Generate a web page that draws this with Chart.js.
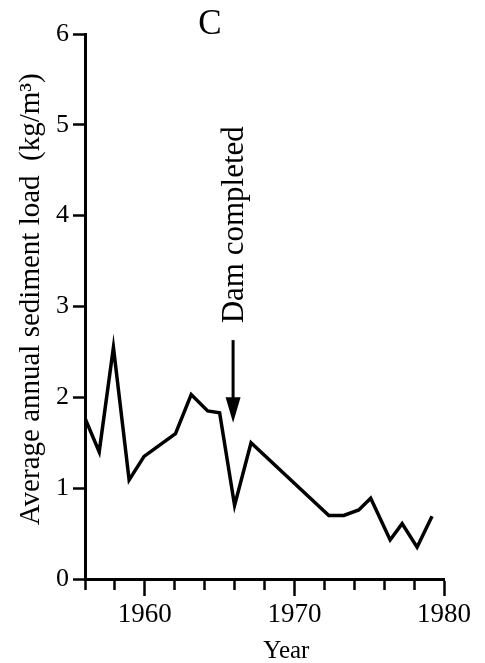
<!DOCTYPE html>
<html>
<head>
<meta charset="utf-8">
<script src="https://cdn.jsdelivr.net/npm/chart.js@4/dist/chart.umd.min.js"></script>
<style>
  html, body { margin: 0; padding: 0; background: #fff; }
  #wrap { width: 485px; height: 663px; }
</style>
</head>
<body>
<div id="wrap"><canvas id="chartC"></canvas></div>
<script>
// sediment load series
const years = [1956, 1956.95, 1957.9, 1958.95, 1959.95, 1962.05, 1963.1, 1964.2, 1965.0, 1966.0,
               1967.1, 1972.3, 1973.3, 1974.3, 1975.1, 1976.4, 1977.2, 1978.2, 1979.2];
const sedimentLoad = [1.77, 1.40, 2.55, 1.09, 1.35, 1.60, 2.03, 1.85, 1.83, 0.81,
                      1.50, 0.70, 0.70, 0.76, 0.89, 0.43, 0.61, 0.35, 0.69];
const xTickLabels = [1960, 1970, 1980];
const damYear = 1965.9;

const SERIF = "'Liberation Serif', 'Times New Roman', serif";

const notesPlugin = {
  id: 'notes',
  afterDraw(chart) {
    const ctx = chart.ctx;
    const x = chart.scales.x;
    const y = chart.scales.y;
    ctx.save();
    ctx.fillStyle = '#000';
    ctx.strokeStyle = '#000';

    // panel letter
    ctx.font = '35px ' + SERIF;
    ctx.textAlign = 'center';
    ctx.textBaseline = 'middle';
    ctx.fillText('C', 210, 25);

    // dam annotation + arrow
    const ax = x.getPixelForValue(damYear);
    ctx.save();
    ctx.translate(ax + 10, y.getPixelForValue(3.9));
    ctx.rotate(-Math.PI / 2);
    ctx.font = '31px ' + SERIF;
    ctx.textAlign = 'center';
    ctx.textBaseline = 'alphabetic';
    ctx.fillText('Dam completed', 0, 0);
    ctx.restore();

    const yTop = y.getPixelForValue(2.63);
    const yHead = y.getPixelForValue(2.0);
    const yTip = y.getPixelForValue(1.72);
    ctx.lineWidth = 3;
    ctx.beginPath();
    ctx.moveTo(ax, yTop);
    ctx.lineTo(ax, yHead + 2);
    ctx.stroke();
    ctx.beginPath();
    ctx.moveTo(ax - 7.5, yHead);
    ctx.lineTo(ax + 7.5, yHead);
    ctx.lineTo(ax, yTip);
    ctx.closePath();
    ctx.fill();
    ctx.restore();
  }
};

new Chart(document.getElementById('chartC'), {
  type: 'line',
  data: {
    datasets: [{
      data: years.map((yr, i) => ({ x: yr, y: sedimentLoad[i] })),
      borderColor: '#000',
      borderWidth: 3.5,
      borderJoinStyle: 'miter',
      pointRadius: 0,
      tension: 0,
      fill: false
    }]
  },
  options: {
    responsive: true,
    maintainAspectRatio: false,
    animation: false,
    events: [],
    layout: { padding: { left: 0, right: 41, top: 34, bottom: 0 } },
    plugins: { legend: { display: false }, tooltip: { enabled: false } },
    scales: {
      x: {
        type: 'linear',
        min: 1956,
        max: 1980,
        border: { display: true, color: '#000', width: 3 },
        grid: {
          drawOnChartArea: false,
          drawTicks: true,
          tickLength: 17,
          tickColor: '#000',
          tickWidth: 2.5,
          tickBorderDash: c => (c.tick && xTickLabels.includes(c.tick.value)) ? [] : [9, 40]
        },
        ticks: {
          stepSize: 2,
          autoSkip: false,
          maxRotation: 0,
          color: '#000',
          padding: 3,
          font: { family: SERIF, size: 27 },
          callback: v => xTickLabels.includes(v) ? String(v) : ''
        },
        title: {
          display: true,
          text: '       Year',
          color: '#000',
          font: { family: SERIF, size: 25, lineHeight: 0.9 },
          padding: { top: 0, bottom: 0 }
        },
        afterFit: s => { s.height = 84; }
      },
      y: {
        min: 0,
        max: 6,
        border: { display: true, color: '#000', width: 3 },
        grid: {
          drawOnChartArea: false,
          drawTicks: true,
          tickLength: 12,
          tickColor: '#000',
          tickWidth: 2.5
        },
        ticks: {
          stepSize: 1,
          color: '#000',
          padding: 4,
          font: { family: SERIF, size: 26 }
        },
        title: {
          display: true,
          text: '  Average annual sediment load  (kg/m³)',
          color: '#000',
          font: { family: SERIF, size: 29 },
          padding: { top: 14, bottom: 0 }
        },
        afterFit: s => { s.width = 85; }
      }
    }
  },
  plugins: [notesPlugin]
});
</script>
</body>
</html>
